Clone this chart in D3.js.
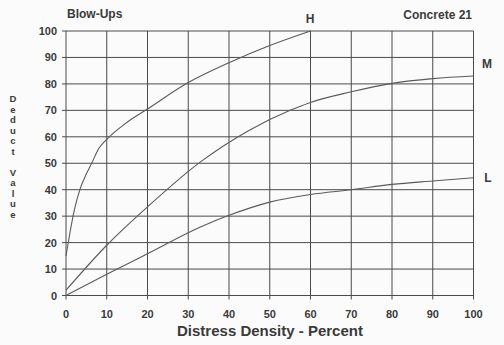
<!DOCTYPE html>
<html>
<head>
<meta charset="utf-8">
<script src="https://cdn.jsdelivr.net/npm/d3@7"></script>
<style>
  html, body { margin: 0; padding: 0; background: #fbfbfb; }
  svg { display: block; }
  text { font-family: "Liberation Sans", Arial, sans-serif; fill: #3a3a3a; }
  .stacked { writing-mode: vertical-lr; text-orientation: upright; }
</style>
</head>
<body>
<svg id="chart" width="504" height="345"></svg>
<script>
// Distress density (%) vs deduct value for the three severity levels
const densityH = [0, 1, 2, 3.5, 5, 6.3, 8, 10, 15, 20, 30, 40, 50, 60];
const deductH  = [15, 24, 32, 40.5, 46, 50, 55.5, 59, 65.5, 70.5, 80.5, 88, 94.5, 100];

const densityM = [0, 10, 20, 33, 45, 55, 60, 70, 80, 90, 100];
const deductM  = [2, 19, 33.5, 50.5, 62.5, 70, 73, 77, 80.2, 82, 83];

const densityL = [0, 10, 20, 33, 40, 50, 60, 70, 80, 90, 100];
const deductL  = [0, 8, 15.8, 25.9, 30.3, 35.3, 38.2, 40, 42, 43.3, 44.5];

const xTicks = [0, 10, 20, 30, 40, 50, 60, 70, 80, 90, 100];
const yTicks = [0, 10, 20, 30, 40, 50, 60, 70, 80, 90, 100];

const svg = d3.select("#chart");
const x = d3.scaleLinear().domain([0, 100]).range([66, 473.5]);
const y = d3.scaleLinear().domain([0, 100]).range([295.5, 31]);

const gridColor = "#4a4a4a";

// grid
const grid = svg.append("g");
grid.selectAll("line.v").data(xTicks).join("line")
  .attr("x1", d => x(d)).attr("x2", d => x(d))
  .attr("y1", y(100)).attr("y2", y(0) + 4)
  .attr("stroke", gridColor).attr("stroke-width", 1);
grid.selectAll("line.h").data(yTicks).join("line")
  .attr("x1", x(0) - 4).attr("x2", x(100))
  .attr("y1", d => y(d)).attr("y2", d => y(d))
  .attr("stroke", gridColor).attr("stroke-width", 1);

// tick labels
svg.append("g").selectAll("text").data(yTicks).join("text")
  .attr("x", 57).attr("y", d => y(d) + 4)
  .attr("text-anchor", "end")
  .attr("font-size", 11).attr("font-weight", "bold")
  .text(d => d);
svg.append("g").selectAll("text").data(xTicks).join("text")
  .attr("x", d => x(d)).attr("y", 318)
  .attr("text-anchor", "middle")
  .attr("font-size", 11).attr("font-weight", "bold")
  .text(d => d);

// curves
const line = d3.line().x(d => x(d[0])).y(d => y(d[1])).curve(d3.curveMonotoneX);
[[densityH, deductH], [densityM, deductM], [densityL, deductL]].forEach(([xs, ys]) => {
  svg.append("path")
    .datum(xs.map((v, i) => [v, ys[i]]))
    .attr("d", line)
    .attr("fill", "none")
    .attr("stroke", "#5a5a5a")
    .attr("stroke-width", 1.1);
});

// axis titles
svg.append("text")
  .attr("x", 270).attr("y", 336)
  .attr("text-anchor", "middle")
  .attr("font-size", 15).attr("font-weight", "bold")
  .text("Distress Density - Percent");

// y title: letters stacked top to bottom
svg.append("text")
  .attr("class", "stacked")
  .attr("x", 13).attr("y", 93)
  .attr("font-size", 9.5).attr("font-weight", "bold")
  .attr("letter-spacing", -0.5)
  .text("Deduct Value");

// headings and severity labels
svg.append("text").attr("x", 67).attr("y", 18)
  .attr("font-size", 12).attr("font-weight", "bold").text("Blow-Ups");
svg.append("text").attr("x", 472).attr("y", 19).attr("text-anchor", "end")
  .attr("font-size", 12).attr("font-weight", "bold").text("Concrete 21");
svg.append("text").attr("x", 310).attr("y", 23).attr("text-anchor", "middle")
  .attr("font-size", 12).attr("font-weight", "bold").text("H");
svg.append("text").attr("x", 487).attr("y", 68).attr("text-anchor", "middle")
  .attr("font-size", 12).attr("font-weight", "bold").text("M");
svg.append("text").attr("x", 488).attr("y", 182).attr("text-anchor", "middle")
  .attr("font-size", 12).attr("font-weight", "bold").text("L");
</script>
</body>
</html>
